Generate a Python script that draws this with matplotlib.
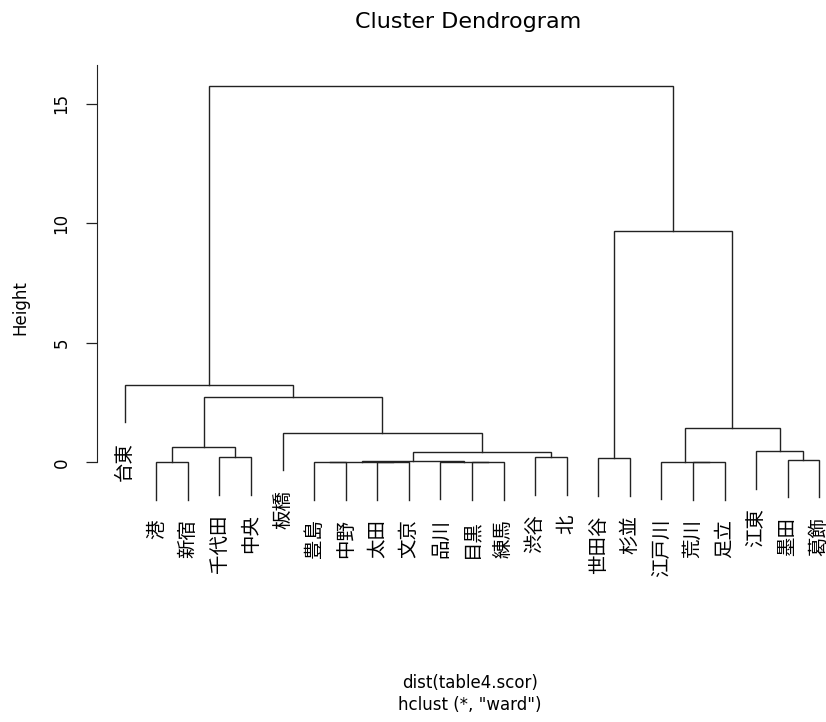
"""
クラスター樹形図 (hclust, ward) の再現
"""

import matplotlib
matplotlib.use("Agg")
import matplotlib.pyplot as plt

plt.rcParams['font.family'] = ['Noto Sans CJK JP', 'DejaVu Sans']

# 葉の並び順 (左から)
labels = ["台東", "港", "新宿", "千代田", "中央", "板橋", "豊島", "中野", "太田",
          "文京", "品川", "目黒", "練馬", "渋谷", "北", "世田谷", "杉並",
          "江戸川", "荒川", "足立", "江東", "墨田", "葛飾"]

# R の merge 行列と同じ形: 負の数 = 葉番号(1始まり), 正の数 = 以前の結合番号
merge_left = [-7, -19, -2, -12, -9, -18, 1, -11, 7, -22, -16, -4, -14,
              9, -21, 3, -6, 6, 16, -1, 11, 20]
merge_right = [-8, -20, -3, -13, -10, 2, 5, 4, 8, -23, -17, -5, -15,
               13, 10, 12, 14, 15, 17, 19, 18, 21]
merge_height = [0.005, 0.008, 0.01, 0.012, 0.015, 0.02, 0.022, 0.028, 0.032,
                0.11, 0.17, 0.22, 0.22, 0.41, 0.47, 0.64, 1.24, 1.42,
                2.74, 3.25, 9.68, 15.75]

yticks = [0, 5, 10, 15]

W, H = 826, 722
fig = plt.figure(figsize=(W / 100, H / 100), dpi=100)

# プロット領域 (ピクセル) -> 図の座標
px_left, px_right = 97, 847
px_top, px_bottom = 65, 516
ymax, ymin = 16.63, -2.25
ax = fig.add_axes([px_left / W, 1 - px_bottom / H,
                   (px_right - px_left) / W, (px_bottom - px_top) / H])
n = len(labels)
ax.set_xlim(1 - 0.04 * (n - 1), n + 0.04 * (n - 1))
ax.set_ylim(ymin, ymax)

hang = 0.1 * (max(merge_height) - min(merge_height))

# 各結合のx座標を計算
node_x = []
for i in range(len(merge_height)):
    xs = []
    for c in (merge_left[i], merge_right[i]):
        xs.append(-c if c < 0 else node_x[c - 1])
    node_x.append(sum(xs) / 2)

lc = '#222222'
lw = 1.0
for i in range(len(merge_height)):
    h = merge_height[i]
    pts = []
    for c in (merge_left[i], merge_right[i]):
        if c < 0:
            cx, cy = -c, h - hang
            ax.annotate(labels[-c - 1], xy=(cx, cy), xytext=(0, -14),
                        textcoords='offset points', rotation=90,
                        ha='center', va='top', fontsize=14,
                        annotation_clip=False)
        else:
            cx, cy = node_x[c - 1], merge_height[c - 1]
        pts.append((cx, cy))
    (x1, y1), (x2, y2) = pts
    ax.plot([x1, x1, x2, x2], [y1, h, h, y2], color=lc, lw=lw,
            solid_joinstyle='miter', clip_on=False)

# 軸の体裁
for s in ['top', 'right', 'bottom']:
    ax.spines[s].set_visible(False)
ax.spines['left'].set_bounds(0, ymax)
ax.spines['left'].set_color(lc)
ax.set_xticks([])
ax.set_yticks(yticks)
ax.set_yticklabels([str(t) for t in yticks], rotation=90, va='center',
                   fontsize=12, family='DejaVu Sans')
ax.tick_params(axis='y', length=8, width=0.9, pad=11, color=lc)
ax.patch.set_visible(False)

fig.text(20 / W, 1 - 308 / H, "Height", rotation=90, ha='center',
         va='center', fontsize=12, family='DejaVu Sans')
fig.text(468 / W, 1 - 28 / H, "Cluster Dendrogram", ha='center',
         va='baseline', fontsize=16, family='DejaVu Sans')
fig.text(470 / W, 1 - 683 / H, "dist(table4.scor)", ha='center',
         va='center', fontsize=12, family='DejaVu Sans')
fig.text(470 / W, 1 - 705 / H, 'hclust (*, "ward")', ha='center',
         va='center', fontsize=12, family='DejaVu Sans')

fig.savefig('out.png', dpi=100)
